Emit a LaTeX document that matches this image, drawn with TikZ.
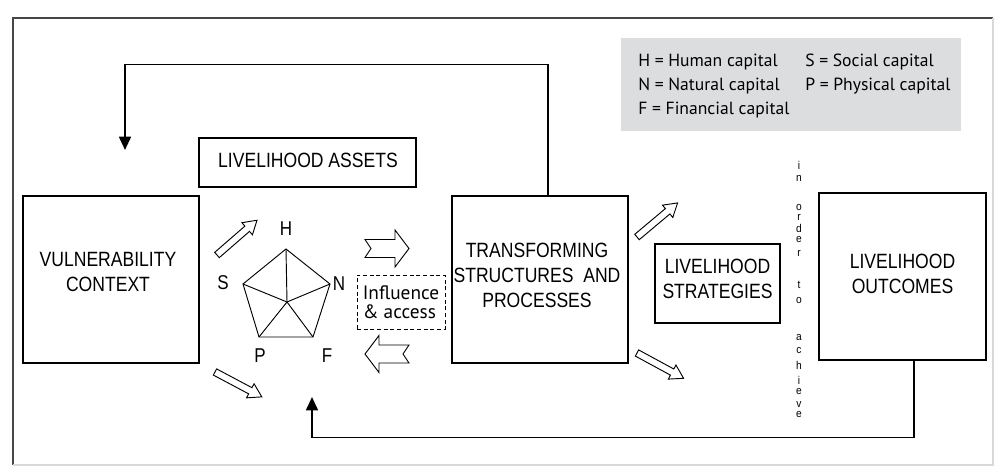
\documentclass[tikz,border=0pt]{standalone}
\usepackage{fontspec}
\usetikzlibrary{arrows.meta}
\newfontfamily\boxfont[FakeStretch=0.85]{Liberation Sans}
\newfontfamily\keyfont{PT Sans}
\newfontfamily\smallfont[FakeStretch=0.9]{Liberation Sans}
\definecolor{keygray}{RGB}{220,221,223}
\definecolor{framegray}{RGB}{70,70,70}

\tikzset{
  box/.style={draw, line width=0.8pt, inner sep=0pt},
  boxtext/.style={align=center, inner sep=0pt, font=\boxfont\fontsize{15.5}{18.75}\selectfont},
  capital/.style={inner sep=0pt, font=\boxfont\fontsize{15}{15}\selectfont},
  keytext/.style={anchor=base west, inner sep=0pt, font=\keyfont\fontsize{13.2}{15}\selectfont},
  feedback/.style={line width=1.3pt, -{Triangle[length=10pt,width=9pt]}},
  hollow/.style={draw, line width=0.7pt, fill=white, line join=miter},
  letter/.style={anchor=base, inner sep=0pt, font=\smallfont\fontsize{8.5}{8.5}\selectfont},
}

% thin outlined arrow: tail point, angle
\newcommand{\slimarrow}[2]{%
  \draw[hollow, shift={#1}, rotate=#2] (0,-3.5) -- (40,-3.5) -- (40,-8) -- (53,0)
    -- (40,8) -- (40,3.5) -- (0,3.5) -- cycle;}
% wide arrow with a notched tail: centre, angle
\newcommand{\notcharrow}[2]{%
  \draw[hollow, shift={#1}, rotate=#2] (-22,-9) -- (8,-9) -- (8,-18.5) -- (22,0)
    -- (8,18.5) -- (8,9) -- (-22,9) -- (-16,0) -- cycle;}

\begin{document}
\begin{tikzpicture}[x=0.75pt, y=-0.75pt]
\useasboundingbox (0,0) rectangle (1001,467);

% frame
\draw[framegray, line width=0.9pt] (13,465) -- (13,18) -- (993,18);
\draw[black!15, line width=0.8pt] (13,465) -- (993,465) -- (993,18);

% key
\node[fill=keygray, minimum width=255pt, minimum height=69.75pt, inner sep=0pt] (key) at (791,84.5) {};
\node[keytext] (hkey) at (638,67) {H = Human capital};
\node[keytext] (skey) at (805,67) {S = Social capital};
\node[keytext] (nkey) at (638,91) {N = Natural capital};
\node[keytext] (pkey) at (805,91) {P = Physical capital};
\node[keytext] (fkey) at (638,115) {F = Financial capital};

% boxes
\node[box, minimum width=132pt, minimum height=125.25pt] (vul) at (111,279.5) {};
\node[boxtext] (vultxt) at (108,272) {VULNERABILITY\\CONTEXT};
\node[box, minimum width=162.75pt, minimum height=36.75pt] (assets) at (307.5,162.5) {};
\node[boxtext] (assetstxt) at (308,160.5) {LIVELIHOOD ASSETS};
\node[box, minimum width=132pt, minimum height=125.25pt] (trans) at (540,279.5) {};
\node[boxtext] (transtxt) at (537,275) {TRANSFORMING\\STRUCTURES\ \ AND\\PROCESSES};
\node[box, minimum width=93.75pt, minimum height=59.25pt] (strat) at (717.5,283.5) {};
\node[boxtext] (strattxt) at (717.5,279) {LIVELIHOOD\\STRATEGIES};
\node[box, minimum width=125.25pt, minimum height=125.25pt] (outc) at (902.5,276.5) {};
\node[boxtext] (outctxt) at (902.5,273.5) {LIVELIHOOD\\OUTCOMES};

% asset pentagon
\coordinate (pc) at (287,302);
\coordinate (H) at (286,249);
\coordinate (N) at (330,284);
\coordinate (F) at (313,337);
\coordinate (P) at (259,337);
\coordinate (S) at (243,284);
\draw[line width=0.7pt, line join=miter] (H) -- (N) -- (F) -- (P) -- (S) -- cycle;
\foreach \v in {H,N,F,P,S}
  \draw[line width=0.7pt] (pc) -- (\v);
\node[capital] (hlab) at (286,229) {H};
\node[capital] (nlab) at (339,284) {N};
\node[capital] (flab) at (327,356) {F};
\node[capital] (plab) at (260,356) {P};
\node[capital] (slab) at (223,283) {S};

% influence & access
\node[draw, dash pattern=on 3pt off 2pt, line width=0.7pt, minimum width=66pt, minimum height=40.5pt,
  inner sep=0pt, align=left, font=\keyfont\fontsize{14.5}{14.5}\selectfont] (infl) at (401,302)
  {Influence\\\& access};

% block arrows
\slimarrow{(217,255)}{41}
\slimarrow{(215,372)}{-28}
\slimarrow{(637,237)}{40}
\slimarrow{(637,353)}{-28.5}
\notcharrow{(387,248.5)}{0}
\notcharrow{(387,354)}{180}

% in order to achieve
\foreach \l/\y in {i/170, n/181, o/210, r/220, d/233, e/243, r/257, t/288, o/303,
                   a/340, c/353, h/369, i/384, e/394, v/407, e/417}
  \node[letter] at (799,\y) {\l};

% feedback loops
\coordinate (vulin) at (125,150);
\coordinate (assetin) at (312,397);
\draw[feedback] ([xshift=6pt]trans.north) -- ++(0,-131) -| (vulin);
\draw[feedback] ([xshift=8.6pt]outc.south) -- ++(0,77) -| (assetin);

\end{tikzpicture}
\end{document}
